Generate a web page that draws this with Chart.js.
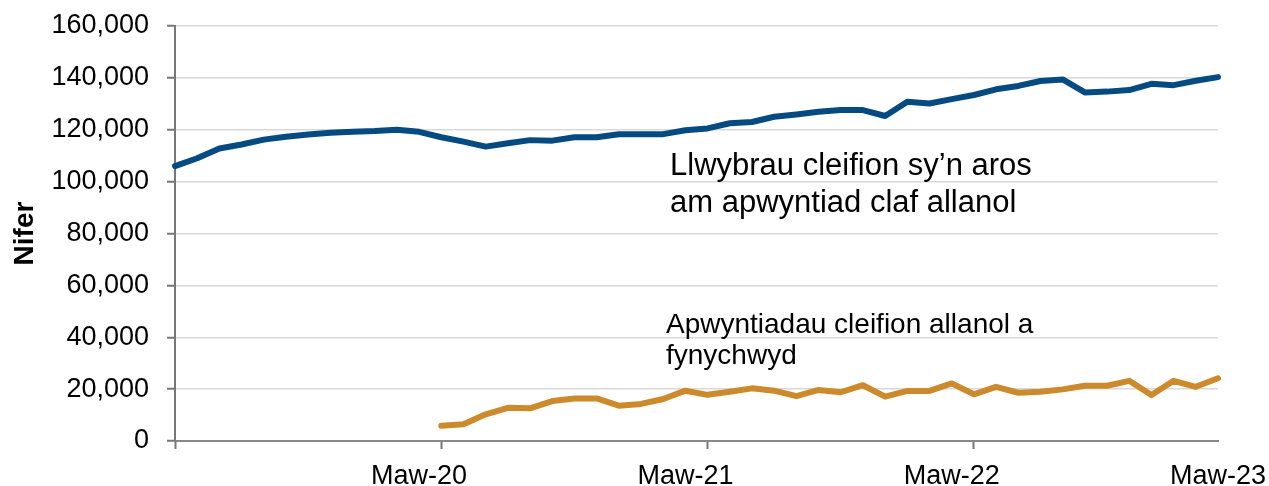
<!DOCTYPE html>
<html>
<head>
<meta charset="utf-8">
<script src="https://cdn.jsdelivr.net/npm/chart.js@4"></script>
<style>
  html, body { margin: 0; padding: 0; background: #fff; }
  #wrap { width: 1269px; height: 486px; }
</style>
</head>
<body>
<div id="wrap"><canvas id="chart" width="1269" height="486"></canvas></div>
<script>
// Monthly counts, Ebr-19 to Maw-23
const months = [
    'Ebr-19', 'Mai-19', 'Meh-19', 'Gor-19', 'Aws-19', 'Med-19', 'Hyd-19', 'Tach-19', 'Rhag-19', 'Ion-20', 'Chw-20', 'Maw-20',
    'Ebr-20', 'Mai-20', 'Meh-20', 'Gor-20', 'Aws-20', 'Med-20', 'Hyd-20', 'Tach-20', 'Rhag-20', 'Ion-21', 'Chw-21', 'Maw-21',
    'Ebr-21', 'Mai-21', 'Meh-21', 'Gor-21', 'Aws-21', 'Med-21', 'Hyd-21', 'Tach-21', 'Rhag-21', 'Ion-22', 'Chw-22', 'Maw-22',
    'Ebr-22', 'Mai-22', 'Meh-22', 'Gor-22', 'Aws-22', 'Med-22', 'Hyd-22', 'Tach-22', 'Rhag-22', 'Ion-23', 'Chw-23', 'Maw-23'
];

// Llwybrau cleifion sy'n aros am apwyntiad claf allanol
const waitingPathways = [
    106000, 109000, 112800, 114300, 116200, 117300, 118200, 118800, 119200, 119500, 120000, 119200,
    117100, 115400, 113500, 114800, 116000, 115800, 117100, 117100, 118300, 118300, 118300, 119800,
    120500, 122500, 123000, 125000, 125900, 126900, 127600, 127600, 125300, 130800, 130100, 131800,
    133400, 135600, 136900, 138800, 139400, 134400, 134700, 135300, 137700, 137200, 138900, 140300
];

// Apwyntiadau cleifion allanol a fynychwyd (no data before Ebr-20)
const attendedAppointments = [
    null, null, null, null, null, null, null, null, null, null, null, null,
    5900, 6500, 10300, 12800, 12600, 15400, 16400, 16400, 13600, 14300, 16200, 19400,
    17800, 19000, 20300, 19400, 17300, 19700, 18800, 21500, 17100, 19300, 19300, 22200,
    18000, 20900, 18600, 19000, 19900, 21300, 21300, 23200, 17700, 23200, 20900, 24200
];

// the only month names printed under the axis
const xTickLabels = ['Maw-20', 'Maw-21', 'Maw-22', 'Maw-23'];

const yTicks = [0, 20000, 40000, 60000, 80000, 100000, 120000, 140000, 160000];

const seriesLabels = [
    ['Llwybrau cleifion sy\u2019n aros', 'am apwyntiad claf allanol'],
    ['Apwyntiadau cleifion allanol a', 'fynychwyd']
];

const FONT = 'Liberation Sans, Arial, sans-serif';

// draws the two series names next to their lines
const seriesTextPlugin = {
    id: 'seriesText',
    afterDatasetsDraw(chart) {
        const ctx = chart.ctx;
        ctx.save();
        ctx.fillStyle = '#000';
        ctx.textAlign = 'left';
        ctx.textBaseline = 'alphabetic';
        // the blue label is a touch bigger than the orange one in the original
        ctx.font = '31px ' + FONT;
        ctx.fillText(seriesLabels[0][0], 670, 175);
        ctx.fillText(seriesLabels[0][1], 670, 212);
        ctx.font = '28px ' + FONT;
        ctx.fillText(seriesLabels[1][0], 666, 333);
        ctx.fillText(seriesLabels[1][1], 666, 364);
        ctx.restore();
    }
};

const ctx = document.getElementById('chart').getContext('2d');

new Chart(ctx, {
    type: 'line',
    data: {
        labels: months,
        datasets: [{
            label: seriesLabels[0].join(' '),
            data: waitingPathways,
            borderColor: '#054b82',
            borderWidth: 6,
            borderCapStyle: 'round',
            borderJoinStyle: 'round',
            pointRadius: 0,
            tension: 0
        }, {
            label: seriesLabels[1].join(' '),
            data: attendedAppointments,
            borderColor: '#cd8a2c',
            borderWidth: 6,
            borderCapStyle: 'round',
            borderJoinStyle: 'round',
            pointRadius: 0,
            tension: 0
        }]
    },
    options: {
        responsive: false,
        animation: false,
        layout: { padding: { top: 26, right: 51, bottom: 0, left: 0 } },
        plugins: {
            legend: { display: false },
            tooltip: { enabled: false }
        },
        scales: {
            x: {
                offset: false,
                grid: {
                    drawOnChartArea: false,
                    tickLength: 8,
                    tickWidth: 2,
                    // tick marks every 12 months from the first category
                    tickColor: c => c.index % 12 === 0 ? '#777' : 'rgba(0,0,0,0)'
                },
                border: { color: '#888', width: 2 },
                ticks: {
                    autoSkip: false,
                    maxRotation: 0,
                    minRotation: 0,
                    padding: 11,
                    color: '#000',
                    font: { family: FONT, size: 27 },
                    callback: (v, i) => xTickLabels.includes(months[i]) ? months[i] : ''
                },
                afterFit: scale => {
                    scale.height = 45;
                    scale.paddingLeft = 0;
                    scale.paddingRight = 0;
                }
            },
            y: {
                min: 0,
                max: 160000,
                afterBuildTicks: scale => { scale.ticks = yTicks.map(v => ({ value: v })); },
                grid: {
                    color: '#d9d9d9',
                    lineWidth: 1.5,
                    tickLength: 8,
                    tickColor: '#777',
                    tickWidth: 2
                },
                border: { color: '#777', width: 2 },
                ticks: {
                    padding: 18,
                    color: '#000',
                    font: { family: FONT, size: 27 },
                    callback: v => v.toLocaleString('en-GB')
                },
                title: {
                    display: true,
                    text: 'Nifer',
                    color: '#000',
                    font: { family: FONT, size: 28, weight: 'bold' },
                    padding: { top: 8, bottom: 0 }
                },
                afterFit: scale => {
                    scale.width = 175;
                    scale.paddingTop = 0;
                    scale.paddingBottom = 0;
                }
            }
        }
    },
    plugins: [seriesTextPlugin]
});
</script>
</body>
</html>
